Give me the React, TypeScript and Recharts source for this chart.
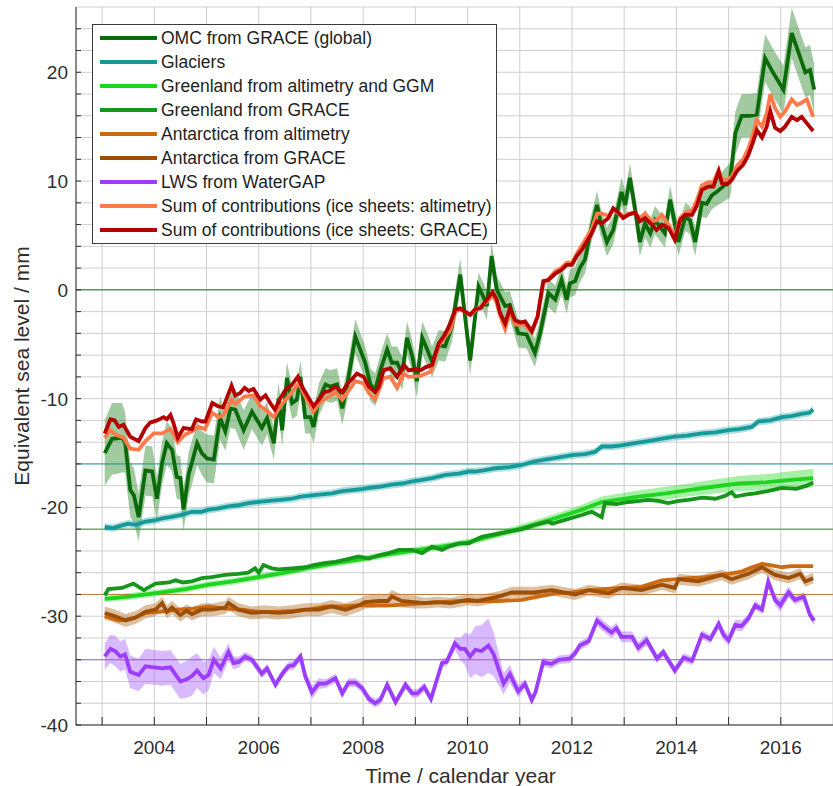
import {
  Area,
  CartesianGrid,
  ComposedChart,
  Line,
  ReferenceLine,
  XAxis,
  YAxis,
} from "recharts";

// [year, mm] or [year, mm, half-width of the uncertainty band]
type Pt = [number, number];
type PtE = [number, number, number];

const OMC_GRACE: PtE[] = [
  [2003.05, -15.0, 3.0], [2003.19, -13.7, 3.3], [2003.38, -13.6, 3.2], [2003.44, -14.0, 2.8],
  [2003.54, -18.4, 2.5], [2003.61, -18.9, 2.5], [2003.7, -20.9, 2.2], [2003.83, -16.6, 2.3],
  [2003.96, -16.7, 2.3], [2004.05, -19.2, 2.0], [2004.15, -15.9, 2.0], [2004.24, -14.1, 2.0],
  [2004.34, -14.7, 2.0], [2004.43, -17.2, 2.0], [2004.5, -17.3, 2.0], [2004.56, -20.2, 2.0],
  [2004.66, -16.9, 2.0], [2004.72, -15.9, 2.0], [2004.82, -14.1, 2.0], [2004.91, -15.0, 2.0],
  [2005.01, -15.5, 2.2], [2005.14, -15.6, 2.2], [2005.26, -11.8, 2.0], [2005.36, -13.0, 1.8],
  [2005.46, -10.9, 1.8], [2005.55, -11.0, 1.8], [2005.71, -12.9, 1.8], [2005.87, -11.2, 1.6],
  [2006.06, -12.7, 1.6], [2006.16, -11.8, 1.5], [2006.29, -14.1, 1.5], [2006.38, -10.0, 1.5],
  [2006.45, -12.9, 1.5], [2006.54, -8.1, 1.5], [2006.64, -10.4, 1.5], [2006.73, -10.1, 1.5],
  [2006.8, -8.0, 1.5], [2006.89, -11.7, 1.5], [2006.99, -11.7, 1.5], [2007.05, -12.6, 1.5],
  [2007.15, -10.1, 1.5], [2007.28, -8.7, 1.5], [2007.37, -8.9, 1.5], [2007.5, -8.7, 1.5],
  [2007.6, -10.9, 1.5], [2007.69, -8.9, 1.5], [2007.85, -4.3, 1.6], [2008.04, -6.7, 1.5],
  [2008.14, -8.7, 1.5], [2008.23, -9.2, 1.5], [2008.33, -7.4, 1.5], [2008.46, -5.5, 1.5],
  [2008.55, -6.7, 1.5], [2008.65, -6.7, 1.5], [2008.75, -7.7, 1.5], [2008.84, -4.4, 1.5],
  [2008.94, -6.1, 1.5], [2009.03, -8.4, 1.5], [2009.13, -4.4, 1.5], [2009.23, -5.5, 1.5],
  [2009.32, -6.6, 1.4], [2009.45, -5.1, 1.4], [2009.57, -5.2, 1.4], [2009.7, -3.4, 1.4],
  [2009.86, 1.4, 1.5], [2010.05, -6.5, 1.4], [2010.21, 0.3, 1.3], [2010.3, -0.6, 1.3],
  [2010.37, -1.5, 1.3], [2010.46, 3.1, 1.3], [2010.56, 0.0, 1.3], [2010.72, -1.5, 1.3],
  [2010.81, -1.4, 1.3], [2010.97, -4.0, 1.3], [2011.13, -4.1, 1.3], [2011.29, -5.8, 1.3],
  [2011.39, -4.0, 1.3], [2011.55, -0.3, 1.3], [2011.68, -0.9, 1.3], [2011.8, 0.9, 1.3],
  [2011.9, -0.9, 1.3], [2011.96, 0.6, 1.3], [2012.06, 0.8, 1.3], [2012.15, 2.0, 1.3],
  [2012.25, 2.8, 1.3], [2012.35, 5.2, 1.3], [2012.48, 7.8, 1.3], [2012.54, 6.4, 1.3],
  [2012.67, 4.4, 1.3], [2012.79, 5.5, 1.3], [2012.95, 9.0, 1.3], [2013.02, 7.8, 1.3],
  [2013.11, 10.3, 1.3], [2013.21, 7.4, 1.3], [2013.3, 4.4, 1.3], [2013.4, 6.1, 1.3],
  [2013.5, 5.2, 1.3], [2013.59, 6.4, 1.3], [2013.78, 5.2, 1.3], [2013.88, 8.3, 1.3],
  [2013.97, 6.1, 1.3], [2014.04, 4.4, 1.3], [2014.17, 6.7, 1.3], [2014.26, 6.4, 1.3],
  [2014.36, 4.4, 1.3], [2014.49, 8.0, 1.3], [2014.58, 7.9, 1.3], [2014.68, 8.7, 1.3],
  [2014.77, 9.0, 1.3], [2014.87, 9.4, 1.4], [2015.03, 10.1, 1.6], [2015.13, 14.4, 2.0],
  [2015.25, 16.0, 2.0], [2015.41, 16.0, 2.0], [2015.54, 16.1, 2.0], [2015.7, 21.3, 2.2],
  [2015.86, 19.9, 2.2], [2016.05, 18.4, 2.2], [2016.21, 23.6, 2.3], [2016.34, 21.8, 2.3],
  [2016.47, 20.0, 2.3], [2016.56, 20.2, 2.3], [2016.64, 18.4, 2.3],
];

const GLACIERS: PtE[] = [
  [2003.05, -21.8, 0.35], [2003.2, -21.9, 0.35], [2003.35, -21.7, 0.35], [2003.5, -21.5, 0.35],
  [2003.65, -21.6, 0.35], [2003.83, -21.3, 0.35], [2004.0, -21.2, 0.35], [2004.15, -21.0, 0.35],
  [2004.3, -20.9, 0.35], [2004.5, -20.7, 0.35], [2004.72, -20.4, 0.35], [2004.9, -20.4, 0.35],
  [2005.04, -20.2, 0.35], [2005.2, -20.1, 0.35], [2005.42, -19.9, 0.35], [2005.6, -19.8, 0.35],
  [2005.8, -19.6, 0.35], [2006.0, -19.5, 0.35], [2006.19, -19.4, 0.35], [2006.4, -19.3, 0.35],
  [2006.63, -19.2, 0.35], [2006.8, -19.0, 0.35], [2007.02, -18.9, 0.35], [2007.2, -18.8, 0.35],
  [2007.4, -18.7, 0.35], [2007.6, -18.5, 0.35], [2007.79, -18.4, 0.35], [2008.0, -18.3, 0.35],
  [2008.11, -18.2, 0.35], [2008.3, -18.1, 0.35], [2008.55, -17.9, 0.35], [2008.75, -17.8, 0.35],
  [2008.94, -17.6, 0.35], [2009.1, -17.5, 0.35], [2009.32, -17.3, 0.35], [2009.58, -17.0, 0.35],
  [2009.83, -16.9, 0.35], [2010.02, -16.7, 0.35], [2010.14, -16.7, 0.35], [2010.3, -16.6, 0.35],
  [2010.53, -16.4, 0.35], [2010.8, -16.3, 0.35], [2011.04, -16.1, 0.35], [2011.25, -15.8, 0.35],
  [2011.48, -15.6, 0.35], [2011.75, -15.4, 0.35], [2012.0, -15.2, 0.35], [2012.25, -15.1, 0.35],
  [2012.44, -14.9, 0.35], [2012.57, -14.4, 0.35], [2012.75, -14.4, 0.35], [2012.95, -14.3, 0.35],
  [2013.2, -14.1, 0.35], [2013.46, -13.9, 0.35], [2013.7, -13.7, 0.35], [2013.97, -13.5, 0.35],
  [2014.2, -13.4, 0.35], [2014.49, -13.2, 0.35], [2014.75, -13.1, 0.35], [2015.0, -12.9, 0.35],
  [2015.2, -12.8, 0.35], [2015.44, -12.6, 0.35], [2015.57, -12.1, 0.35], [2015.8, -12.0, 0.35],
  [2016.02, -11.7, 0.35], [2016.2, -11.6, 0.35], [2016.4, -11.4, 0.35], [2016.55, -11.3, 0.35],
  [2016.62, -11.0, 0.35],
];

const GREENLAND_ALT: PtE[] = [
  [2003.05, -28.4, 0.3], [2003.5, -28.2, 0.3], [2004.15, -27.8, 0.3], [2004.6, -27.5, 0.3],
  [2005.04, -27.1, 0.3], [2005.5, -26.8, 0.3], [2006.0, -26.4, 0.3], [2006.5, -26.0, 0.3],
  [2007.02, -25.5, 0.3], [2007.5, -25.1, 0.3], [2008.04, -24.7, 0.3], [2008.5, -24.3, 0.3],
  [2009.06, -23.9, 0.3], [2009.5, -23.6, 0.3], [2010.02, -23.2, 0.3], [2010.4, -22.7, 0.3],
  [2011.04, -21.9, 0.35], [2011.68, -21.0, 0.4], [2012.19, -20.2, 0.45], [2012.57, -19.5, 0.5],
  [2013.27, -19.0, 0.55], [2013.8, -18.7, 0.6], [2014.23, -18.4, 0.6], [2014.7, -18.1, 0.65],
  [2015.19, -17.8, 0.7], [2015.7, -17.7, 0.75], [2016.15, -17.5, 0.8], [2016.62, -17.3, 0.85],
];

const GREENLAND_GRACE: Pt[] = [
  [2003.05, -28.1], [2003.12, -27.5], [2003.38, -27.4], [2003.6, -27.0], [2003.8, -27.6],
  [2004.02, -27.0], [2004.28, -26.9], [2004.41, -26.7], [2004.55, -26.9], [2004.72, -26.8],
  [2004.91, -26.5], [2005.1, -26.4], [2005.36, -26.2], [2005.61, -26.1], [2005.8, -26.0],
  [2005.93, -25.6], [2006.0, -26.0], [2006.09, -25.3], [2006.25, -25.6], [2006.38, -25.7],
  [2006.64, -25.6], [2006.89, -25.5], [2007.05, -25.3], [2007.28, -25.1], [2007.47, -25.0],
  [2007.66, -24.8], [2007.91, -24.5], [2008.1, -24.7], [2008.3, -24.4], [2008.49, -24.2],
  [2008.68, -23.9], [2008.94, -23.9], [2009.13, -24.2], [2009.32, -23.6], [2009.51, -23.9],
  [2009.64, -23.6], [2009.83, -23.3], [2010.02, -23.3], [2010.27, -22.7], [2010.59, -22.4],
  [2011.04, -22.0], [2011.3, -21.6], [2011.55, -21.3], [2011.62, -21.5], [2011.9, -21.1],
  [2012.19, -20.7], [2012.38, -20.4], [2012.57, -20.9], [2012.63, -19.6], [2012.85, -19.7],
  [2013.08, -19.5], [2013.3, -19.4], [2013.46, -19.3], [2013.65, -19.4], [2013.84, -19.6],
  [2014.05, -19.4], [2014.23, -19.3], [2014.5, -19.1], [2014.75, -19.2], [2014.95, -18.9],
  [2015.06, -18.6], [2015.13, -19.0], [2015.35, -18.8], [2015.51, -18.7], [2015.75, -18.5],
  [2016.02, -18.2], [2016.3, -18.3], [2016.5, -18.0], [2016.62, -17.7],
];

const ANTARCTICA_ALT: Pt[] = [
  [2003.05, -30.0], [2003.32, -30.4], [2003.6, -30.2], [2003.83, -29.7], [2004.1, -29.6],
  [2004.44, -29.4], [2004.75, -29.3], [2005.04, -29.1], [2005.36, -29.3], [2005.68, -29.4],
  [2006.0, -29.6], [2006.32, -29.6], [2006.64, -29.5], [2006.96, -29.4], [2007.28, -29.1],
  [2007.6, -29.1], [2007.92, -29.0], [2008.24, -29.0], [2008.55, -29.0], [2008.87, -28.9],
  [2009.17, -28.8], [2009.5, -28.7], [2009.83, -28.6], [2010.2, -28.6], [2010.6, -28.6],
  [2011.04, -28.5], [2011.35, -28.2], [2011.68, -27.9], [2012.0, -27.8], [2012.32, -27.6],
  [2012.65, -27.5], [2012.95, -27.4], [2013.33, -27.3], [2013.72, -26.7], [2014.0, -26.6],
  [2014.23, -26.5], [2014.55, -26.4], [2014.87, -26.2], [2015.25, -25.9], [2015.45, -25.5],
  [2015.64, -25.2], [2015.8, -25.3], [2016.02, -25.5], [2016.2, -25.4], [2016.4, -25.4],
  [2016.62, -25.4],
];

const ANTARCTICA_GRACE: PtE[] = [
  [2003.05, -29.7, 0.6], [2003.25, -30.0, 0.6], [2003.45, -30.4, 0.6], [2003.65, -30.1, 0.6],
  [2003.83, -29.6, 0.6], [2004.02, -29.4, 0.6], [2004.15, -28.8, 0.6], [2004.24, -29.6, 0.6],
  [2004.34, -29.2, 0.6], [2004.5, -29.9, 0.6], [2004.62, -29.5, 0.6], [2004.72, -29.8, 0.6],
  [2004.91, -29.4, 0.6], [2005.11, -29.4, 0.6], [2005.36, -29.2, 0.6], [2005.42, -28.8, 0.6],
  [2005.61, -29.4, 0.6], [2005.86, -29.7, 0.6], [2006.11, -29.6, 0.6], [2006.38, -29.7, 0.6],
  [2006.64, -29.6, 0.6], [2006.89, -29.4, 0.6], [2007.15, -29.4, 0.6], [2007.4, -29.1, 0.6],
  [2007.66, -29.4, 0.6], [2007.92, -29.0, 0.6], [2008.04, -28.7, 0.6], [2008.3, -28.6, 0.6],
  [2008.47, -28.6, 0.6], [2008.55, -28.2, 0.6], [2008.74, -28.6, 0.6], [2008.97, -28.7, 0.6],
  [2009.17, -28.8, 0.5], [2009.42, -28.7, 0.5], [2009.68, -28.8, 0.5], [2009.9, -28.6, 0.5],
  [2010.0, -28.5, 0.5], [2010.2, -28.6, 0.5], [2010.59, -28.2, 0.5], [2010.85, -27.8, 0.5],
  [2011.29, -27.8, 0.5], [2011.61, -27.6, 0.5], [2012.06, -28.0, 0.5], [2012.32, -27.6, 0.5],
  [2012.7, -27.9, 0.5], [2012.95, -27.4, 0.5], [2013.33, -27.6, 0.5], [2013.72, -27.1, 0.5],
  [2013.97, -27.4, 0.5], [2014.04, -26.6, 0.5], [2014.42, -26.8, 0.5], [2014.87, -26.2, 0.5],
  [2015.06, -26.6, 0.5], [2015.38, -26.1, 0.5], [2015.64, -25.5, 0.5], [2015.89, -26.2, 0.5],
  [2016.15, -26.5, 0.5], [2016.37, -26.1, 0.5], [2016.47, -26.8, 0.5], [2016.62, -26.5, 0.5],
];

const LWS_WATERGAP: PtE[] = [
  [2003.05, -33.7, 1.2], [2003.16, -33.0, 1.3], [2003.25, -33.2, 1.4], [2003.35, -33.7, 1.4],
  [2003.44, -33.5, 1.4], [2003.54, -35.1, 1.5], [2003.7, -35.4, 1.5], [2003.83, -34.6, 1.6],
  [2004.0, -34.7, 1.6], [2004.15, -34.8, 1.6], [2004.31, -34.7, 1.6], [2004.5, -36.0, 1.6],
  [2004.62, -35.8, 1.7], [2004.72, -35.5, 1.8], [2004.82, -35.0, 1.6], [2004.94, -35.7, 1.5],
  [2005.04, -35.4, 1.4], [2005.14, -34.0, 1.2], [2005.27, -34.8, 1.0], [2005.42, -33.3, 0.8],
  [2005.52, -34.3, 0.6], [2005.62, -34.2, 0.5], [2005.74, -33.7, 0.4], [2005.87, -34.0, 0.4],
  [2006.06, -35.3, 0.4], [2006.16, -34.8, 0.4], [2006.32, -36.3, 0.4], [2006.45, -35.3, 0.4],
  [2006.57, -34.6, 0.4], [2006.67, -34.5, 0.4], [2006.8, -33.7, 0.4], [2006.89, -35.5, 0.5],
  [2007.02, -37.0, 0.6], [2007.15, -36.2, 0.5], [2007.28, -36.2, 0.4], [2007.47, -35.7, 0.4],
  [2007.6, -37.1, 0.4], [2007.72, -36.1, 0.4], [2007.85, -36.1, 0.4], [2007.98, -36.6, 0.4],
  [2008.11, -37.6, 0.4], [2008.23, -38.0, 0.4], [2008.33, -37.7, 0.4], [2008.46, -36.3, 0.4],
  [2008.62, -37.9, 0.4], [2008.81, -36.3, 0.4], [2008.94, -37.1, 0.4], [2009.04, -37.1, 0.4],
  [2009.17, -36.5, 0.4], [2009.3, -37.6, 0.4], [2009.51, -34.3, 0.4], [2009.6, -34.2, 0.4],
  [2009.76, -32.5, 0.6], [2009.86, -33.0, 1.0], [2009.95, -33.0, 1.5], [2010.05, -33.7, 2.0],
  [2010.15, -33.1, 2.2], [2010.27, -33.2, 2.4], [2010.4, -32.7, 2.5], [2010.5, -33.5, 2.0],
  [2010.69, -36.2, 1.0], [2010.81, -35.3, 0.8], [2010.97, -36.9, 0.6], [2011.1, -36.2, 0.4],
  [2011.23, -37.7, 0.4], [2011.3, -37.0, 0.4], [2011.45, -34.2, 0.4], [2011.6, -34.4, 0.4],
  [2011.75, -34.0, 0.4], [2011.96, -33.9, 0.4], [2012.06, -33.4, 0.4], [2012.15, -32.7, 0.4],
  [2012.32, -32.3, 0.4], [2012.48, -30.4, 0.5], [2012.62, -31.0, 0.5], [2012.76, -31.5, 0.5],
  [2012.85, -31.1, 0.5], [2012.95, -31.9, 0.5], [2013.15, -31.9, 0.5], [2013.27, -32.9, 0.5],
  [2013.43, -32.2, 0.5], [2013.63, -33.9, 0.4], [2013.75, -33.3, 0.4], [2013.97, -35.0, 0.4],
  [2014.14, -33.8, 0.4], [2014.3, -34.1, 0.4], [2014.49, -31.7, 0.4], [2014.65, -32.1, 0.4],
  [2014.81, -30.7, 0.4], [2014.9, -31.7, 0.5], [2015.0, -32.2, 0.5], [2015.13, -30.8, 0.5],
  [2015.25, -30.9, 0.5], [2015.38, -30.2, 0.4], [2015.51, -29.0, 0.4], [2015.64, -29.4, 0.4],
  [2015.76, -26.8, 0.4], [2015.89, -28.5, 0.5], [2015.99, -29.0, 0.6], [2016.15, -27.8, 0.5],
  [2016.27, -28.5, 0.4], [2016.44, -28.2, 0.4], [2016.56, -29.9, 0.4], [2016.64, -30.4, 0.4],
];

const SUM_ALT: Pt[] = [
  [2003.05, -13.6], [2003.16, -12.9], [2003.26, -13.3], [2003.41, -13.6], [2003.54, -14.6],
  [2003.7, -14.7], [2003.83, -13.9], [2003.99, -13.2], [2004.15, -13.2], [2004.31, -12.8],
  [2004.45, -14.0], [2004.59, -13.3], [2004.72, -13.0], [2004.85, -12.6], [2004.97, -12.8],
  [2005.11, -11.3], [2005.23, -11.7], [2005.33, -11.5], [2005.48, -10.1], [2005.55, -10.5],
  [2005.73, -9.8], [2005.9, -9.7], [2006.03, -10.7], [2006.13, -11.0], [2006.29, -11.7],
  [2006.41, -10.7], [2006.57, -9.8], [2006.77, -8.6], [2006.89, -9.8], [2007.05, -11.2],
  [2007.18, -10.3], [2007.35, -9.8], [2007.47, -9.4], [2007.6, -10.1], [2007.69, -9.5],
  [2007.85, -8.4], [2008.01, -8.6], [2008.11, -9.5], [2008.23, -10.1], [2008.39, -8.1],
  [2008.52, -8.0], [2008.65, -9.0], [2008.78, -7.7], [2008.87, -8.0], [2009.1, -7.9],
  [2009.3, -7.5], [2009.45, -5.1], [2009.54, -4.5], [2009.67, -3.7], [2009.77, -2.0],
  [2009.86, -1.8], [2010.05, -2.3], [2010.14, -1.9], [2010.37, -1.1], [2010.48, -0.5],
  [2010.56, -1.2], [2010.62, -2.3], [2010.72, -3.6], [2010.81, -2.0], [2010.91, -3.2],
  [2011.01, -3.2], [2011.1, -3.2], [2011.23, -3.9], [2011.34, -2.5], [2011.45, 0.6],
  [2011.55, 1.0], [2011.68, 1.7], [2011.79, 2.0], [2011.9, 2.5], [2012.0, 2.5],
  [2012.09, 3.3], [2012.19, 4.1], [2012.28, 4.8], [2012.38, 5.6], [2012.48, 7.0],
  [2012.57, 7.0], [2012.7, 6.8], [2012.79, 7.4], [2012.89, 7.0], [2012.98, 6.8],
  [2013.08, 7.0], [2013.21, 7.1], [2013.3, 6.6], [2013.4, 7.0], [2013.53, 6.3],
  [2013.62, 6.4], [2013.72, 6.9], [2013.85, 6.0], [2013.97, 4.9], [2014.07, 6.6],
  [2014.17, 7.1], [2014.3, 7.3], [2014.39, 8.2], [2014.49, 9.6], [2014.61, 9.9],
  [2014.71, 9.9], [2014.81, 11.0], [2014.87, 10.2], [2014.97, 10.1], [2015.06, 10.4],
  [2015.16, 11.4], [2015.28, 12.0], [2015.38, 13.0], [2015.47, 14.3], [2015.54, 15.6],
  [2015.64, 15.0], [2015.73, 16.2], [2015.8, 18.0], [2015.89, 16.7], [2015.99, 15.9],
  [2016.08, 16.4], [2016.21, 17.5], [2016.31, 17.0], [2016.4, 17.2], [2016.5, 17.5],
  [2016.62, 15.9],
];

const SUM_GRACE: Pt[] = [
  [2003.05, -13.2], [2003.16, -11.9], [2003.24, -12.0], [2003.32, -12.6], [2003.41, -12.4],
  [2003.54, -13.5], [2003.7, -13.9], [2003.83, -12.7], [2003.92, -12.2], [2004.05, -12.0],
  [2004.18, -11.7], [2004.24, -11.9], [2004.31, -11.5], [2004.37, -12.3], [2004.45, -13.6],
  [2004.56, -12.7], [2004.72, -12.8], [2004.8, -11.9], [2004.91, -12.1], [2004.98, -12.1],
  [2005.11, -10.4], [2005.22, -10.7], [2005.32, -10.8], [2005.48, -8.8], [2005.55, -9.7],
  [2005.64, -9.5], [2005.73, -9.0], [2005.81, -9.3], [2005.9, -9.1], [2006.03, -10.1],
  [2006.13, -9.7], [2006.22, -10.4], [2006.31, -11.0], [2006.41, -10.0], [2006.51, -9.2],
  [2006.64, -8.7], [2006.75, -8.0], [2006.83, -8.9], [2006.94, -9.8], [2007.05, -10.7],
  [2007.15, -10.1], [2007.26, -9.4], [2007.35, -9.3], [2007.47, -8.9], [2007.6, -9.4],
  [2007.69, -8.7], [2007.79, -8.2], [2007.88, -7.7], [2008.01, -8.0], [2008.11, -8.9],
  [2008.23, -9.4], [2008.3, -8.9], [2008.39, -7.4], [2008.52, -7.2], [2008.65, -8.0],
  [2008.78, -6.9], [2008.87, -7.4], [2009.0, -7.3], [2009.1, -7.4], [2009.2, -7.1],
  [2009.32, -6.9], [2009.45, -4.9], [2009.54, -4.3], [2009.64, -3.4], [2009.77, -1.8],
  [2009.86, -1.7], [2009.95, -2.0], [2010.05, -2.3], [2010.14, -1.8], [2010.25, -1.7],
  [2010.37, -0.9], [2010.48, -0.2], [2010.56, -0.9], [2010.62, -2.1], [2010.72, -3.1],
  [2010.81, -1.7], [2010.91, -2.8], [2011.01, -3.0], [2011.1, -2.9], [2011.23, -3.8],
  [2011.34, -2.5], [2011.45, 0.8], [2011.55, 0.9], [2011.68, 1.5], [2011.79, 1.8],
  [2011.9, 2.3], [2012.0, 2.3], [2012.09, 3.1], [2012.19, 3.7], [2012.28, 4.4],
  [2012.38, 5.2], [2012.48, 6.3], [2012.57, 6.1], [2012.7, 6.6], [2012.79, 7.5],
  [2012.89, 7.1], [2012.98, 6.6], [2013.08, 6.9], [2013.21, 7.1], [2013.3, 6.3],
  [2013.4, 6.6], [2013.53, 6.0], [2013.62, 5.5], [2013.72, 6.0], [2013.85, 5.7],
  [2013.97, 4.6], [2014.07, 6.4], [2014.17, 6.9], [2014.3, 6.9], [2014.39, 7.7],
  [2014.49, 9.2], [2014.61, 9.5], [2014.71, 9.5], [2014.81, 10.9], [2014.87, 9.8],
  [2014.97, 9.7], [2015.06, 10.1], [2015.16, 10.9], [2015.28, 11.5], [2015.38, 12.4],
  [2015.47, 13.6], [2015.54, 14.7], [2015.64, 14.0], [2015.73, 15.0], [2015.8, 16.4],
  [2015.89, 14.9], [2015.99, 14.6], [2016.08, 15.0], [2016.21, 15.9], [2016.31, 15.6],
  [2016.4, 15.9], [2016.5, 15.3], [2016.62, 14.6],
];

// zero lines each component was shifted onto
const OFFSETS = [0, -16, -22, -28, -34];
const OFFSET_COLORS = ["#147a14", "#1aa3a3", "#2a9f2a", "#c47a38", "#aa58ff"];

const YEAR_TICKS = [2003, 2004, 2005, 2006, 2007, 2008, 2009, 2010, 2011, 2012, 2013, 2014, 2015, 2016];
const LEVEL_TICKS = [
  -40, -38, -36, -34, -32, -30, -28, -26, -24, -22, -20, -18, -16, -14, -12, -10, -8, -6, -4, -2,
  0, 2, 4, 6, 8, 10, 12, 14, 16, 18, 20, 22, 24,
];

const LEGEND = [
  { name: "OMC from GRACE (global)", color: "#0b6b0b" },
  { name: "Glaciers", color: "#17999a" },
  { name: "Greenland from altimetry and GGM", color: "#1fd41f" },
  { name: "Greenland from GRACE", color: "#16961a" },
  { name: "Antarctica from altimetry", color: "#cc6a12" },
  { name: "Antarctica from GRACE", color: "#9b4f08" },
  { name: "LWS from WaterGAP", color: "#9b3cff" },
  { name: "Sum of contributions (ice sheets: altimetry)", color: "#ff7a4a" },
  { name: "Sum of contributions (ice sheets: GRACE)", color: "#b40000" },
];

const FONT = "'Liberation Sans', Arial, sans-serif";
const INK = "#2e2e2e";

const line = (s: Pt[] | PtE[]) => s.map((p) => ({ t: p[0], v: p[1] }));
const band = (s: PtE[]) => s.map(([t, v, e]) => ({ t, range: [v - e, v + e] }));

const BottomTick = (props: any) => {
  const { x, y, payload } = props;
  return (
    <g>
      <line x1={x} y1={y} x2={x} y2={y - 8} stroke={INK} />
      {payload.value % 2 === 0 && (
        <text x={x} y={y + 29} textAnchor="middle" fontSize={19} fill={INK} fontFamily={FONT}>
          {payload.value}
        </text>
      )}
    </g>
  );
};

const TopTick = (props: any) => {
  const { x, y } = props;
  return <line x1={x} y1={y} x2={x} y2={y + 8} stroke={INK} />;
};

const LeftTick = (props: any) => {
  const { x, y, payload } = props;
  return (
    <g>
      <line x1={x} y1={y} x2={x + 5} y2={y} stroke={INK} />
      {payload.value % 10 === 0 && (
        <text x={x - 8} y={y + 7} textAnchor="end" fontSize={19} fill={INK} fontFamily={FONT}>
          {payload.value}
        </text>
      )}
    </g>
  );
};

export default function App() {
  const lw = 3.8;
  const common = { type: "linear" as const, dot: false, activeDot: false, isAnimationActive: false };
  return (
    <div style={{ position: "absolute", left: 0, top: 0, width: 833, height: 786, overflow: "hidden", background: "#fff" }}>
      <ComposedChart width={833} height={786} margin={{ top: 7, right: 0, bottom: 0, left: 0 }} style={{ fontFamily: FONT }}>
        <CartesianGrid stroke="#cfcfcf" />
        <XAxis
          dataKey="t"
          type="number"
          domain={[2002.5, 2017]}
          allowDataOverflow
          ticks={YEAR_TICKS}
          interval={0}
          height={61}
          tickSize={0}
          tickMargin={0}
          tickLine={false}
          tick={<BottomTick />}
          axisLine={{ stroke: INK }}
          label={{ value: "Time / calendar year", position: "center", dx: 6, dy: 20, fontSize: 21, fill: INK }}
        />
        <XAxis
          xAxisId="top"
          orientation="top"
          dataKey="t"
          type="number"
          domain={[2002.5, 2017]}
          allowDataOverflow
          ticks={YEAR_TICKS}
          interval={0}
          height={0}
          tickSize={0}
          tickMargin={0}
          tickLine={false}
          tick={<TopTick />}
          axisLine={{ stroke: INK }}
        />
        <YAxis
          type="number"
          domain={[-40, 26]}
          allowDataOverflow
          ticks={LEVEL_TICKS}
          interval={0}
          width={76}
          tickSize={0}
          tickMargin={0}
          tickLine={false}
          tick={<LeftTick />}
          axisLine={{ stroke: INK }}
          label={{ value: "Equivalent sea level / mm", angle: -90, position: "center", dx: -16, fontSize: 21, fill: INK }}
        />

        {OFFSETS.map((y, i) => (
          <ReferenceLine key={y} y={y} stroke={OFFSET_COLORS[i]} strokeWidth={1} />
        ))}

        <Area {...common} data={band(OMC_GRACE)} dataKey="range" stroke="none" fill="#2f8a2f" fillOpacity={0.45} />
        <Area {...common} data={band(GLACIERS)} dataKey="range" stroke="none" fill="#1aa0a0" fillOpacity={0.35} />
        <Area {...common} data={band(GREENLAND_ALT)} dataKey="range" stroke="none" fill="#22dd22" fillOpacity={0.4} />
        <Area {...common} data={band(ANTARCTICA_GRACE)} dataKey="range" stroke="none" fill="#b5702a" fillOpacity={0.45} />
        <Area {...common} data={band(LWS_WATERGAP)} dataKey="range" stroke="none" fill="#a050ff" fillOpacity={0.4} />

        <Line {...common} data={line(OMC_GRACE)} dataKey="v" stroke={LEGEND[0].color} strokeWidth={lw} />
        <Line {...common} data={line(GLACIERS)} dataKey="v" stroke={LEGEND[1].color} strokeWidth={lw} />
        <Line {...common} data={line(GREENLAND_ALT)} dataKey="v" stroke={LEGEND[2].color} strokeWidth={lw} />
        <Line {...common} data={line(GREENLAND_GRACE)} dataKey="v" stroke={LEGEND[3].color} strokeWidth={lw} />
        <Line {...common} data={line(ANTARCTICA_ALT)} dataKey="v" stroke={LEGEND[4].color} strokeWidth={lw} />
        <Line {...common} data={line(ANTARCTICA_GRACE)} dataKey="v" stroke={LEGEND[5].color} strokeWidth={lw} />
        <Line {...common} data={line(LWS_WATERGAP)} dataKey="v" stroke={LEGEND[6].color} strokeWidth={lw} />
        <Line {...common} data={line(SUM_ALT)} dataKey="v" stroke={LEGEND[7].color} strokeWidth={lw} />
        <Line {...common} data={line(SUM_GRACE)} dataKey="v" stroke={LEGEND[8].color} strokeWidth={lw} />
      </ComposedChart>

      <div
        style={{
          position: "absolute",
          left: 92,
          top: 24,
          width: 403,
          height: 217,
          border: "1px solid #3a3a3a",
          background: "#fff",
          paddingTop: 1,
          boxSizing: "content-box",
          fontFamily: FONT,
          fontSize: 17.5,
          color: "#1e1e1e",
        }}
      >
        {LEGEND.map((item) => (
          <div key={item.name} style={{ display: "flex", alignItems: "center", height: 24, whiteSpace: "nowrap" }}>
            <span style={{ display: "inline-block", width: 57, height: 4, marginLeft: 7, marginRight: 4, background: item.color }} />
            <span>{item.name}</span>
          </div>
        ))}
      </div>
    </div>
  );
}
